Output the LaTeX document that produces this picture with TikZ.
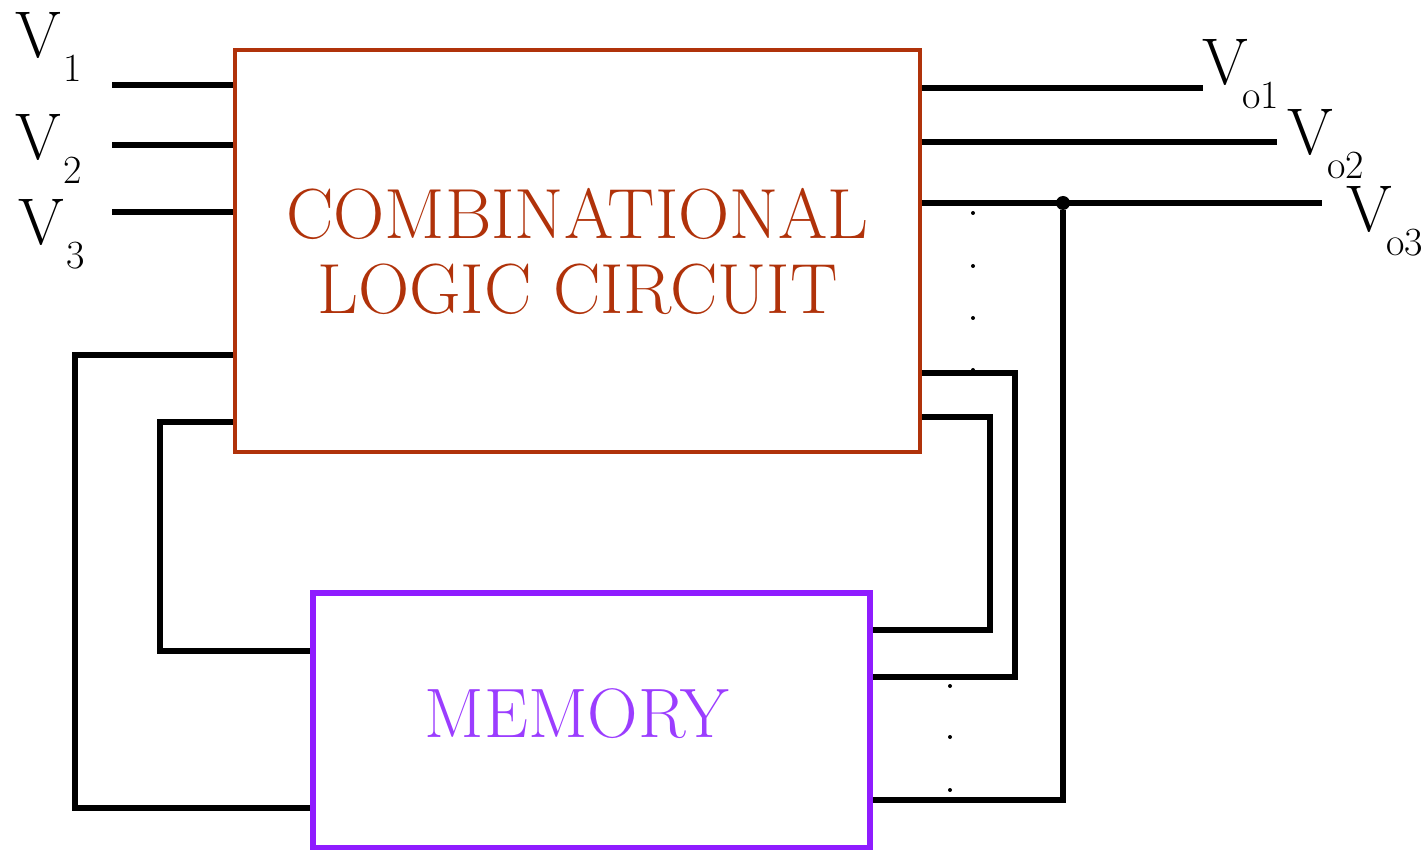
\documentclass[tikz,border=0pt]{standalone}
\usepackage{tikz}
\usetikzlibrary{positioning,calc}
\definecolor{clcred}{HTML}{B0320A}
\definecolor{memline}{HTML}{8F1CFF}
\definecolor{memtext}{HTML}{9B3DFF}
\tikzset{
  clcbox/.style={draw=clcred,line width=2.2pt,inner sep=0pt,
                 minimum width=342.5pt,minimum height=201pt,
                 text=clcred,align=center,font=\fontsize{35.5}{37.5}\selectfont},
  membox/.style={draw=memline,line width=2.8pt,inner sep=0pt,
                 minimum width=278.5pt,minimum height=127.5pt},
  memlabel/.style={text=memtext,inner sep=0pt,font=\fontsize{35}{35}\selectfont},
  wire/.style={line width=2.9pt,black},
  siglabel/.style={inner sep=0pt,anchor=base west,
                   font=\fontsize{33}{33}\selectfont},
  junction/.style={circle,fill=black,inner sep=0pt,minimum size=7pt},
}
\newcommand{\vsub}[2]{V\hspace{#2}\raisebox{-12pt}{\fontsize{20}{20}\selectfont #1}}

\begin{document}
\begin{tikzpicture}[x=0.5pt,y=-0.5pt]
  \useasboundingbox (0,0) rectangle (1426,850);
  % blocks
  \node[clcbox] (clc) at (577.5,251) {COMBINATIONAL\\LOGIC CIRCUIT};
  \node[membox] (mem) at (591.5,720.5) {};
  \node[memlabel] (memtxt) at (577,714) {MEMORY};

  % inputs
  \coordinate (in1) at (112,85);
  \coordinate (in2) at (112,145);
  \coordinate (in3) at (112,212);
  \draw[wire] (in1) -- (in1 -| clc.west);
  \draw[wire] (in2) -- (in2 -| clc.west);
  \draw[wire] (in3) -- (in3 -| clc.west);
  \node[siglabel] (v1) at (15,58) {\vsub{1}{1pt}};
  \node[siglabel] (v2) at (15,160) {\vsub{2}{1pt}};
  \node[siglabel] (v3) at (18,245) {\vsub{3}{1pt}};

  % outputs
  \coordinate (out1) at (1203,88);
  \coordinate (out2) at (1277,142);
  \coordinate (out3) at (1322,203);
  \draw[wire] (clc.east |- out1) -- (out1);
  \draw[wire] (clc.east |- out2) -- (out2);
  \draw[wire] (clc.east |- out3) -- (out3);
  \node[siglabel] (vo1) at (1202,85) {\vsub{o1}{-3pt}};
  \node[siglabel] (vo2) at (1287,155) {\vsub{o2}{-3pt}};
  \node[siglabel] (vo3) at (1346,232) {\vsub{o3}{-3pt}};
  \node[junction] (tap) at (1063,203) {};

  % feedback paths
  \draw[wire] (tap) |- (mem.east |- 0,800);
  \draw[wire] (clc.east |- 0,373) -| (1015,677) -- (mem.east |- 0,677);
  \draw[wire] (clc.east |- 0,417) -| (990,630) -- (mem.east |- 0,630);
  \draw[wire] (clc.west |- 0,355) -| (75,808) -- (mem.west |- 0,808);
  \draw[wire] (clc.west |- 0,422) -| (160,651) -- (mem.west |- 0,651);

  % more lines
  \foreach \y in {213,266,318,370} \fill (973,\y) circle (1pt);
  \foreach \y in {686,737,790} \fill (950,\y) circle (1pt);
\end{tikzpicture}
\end{document}
